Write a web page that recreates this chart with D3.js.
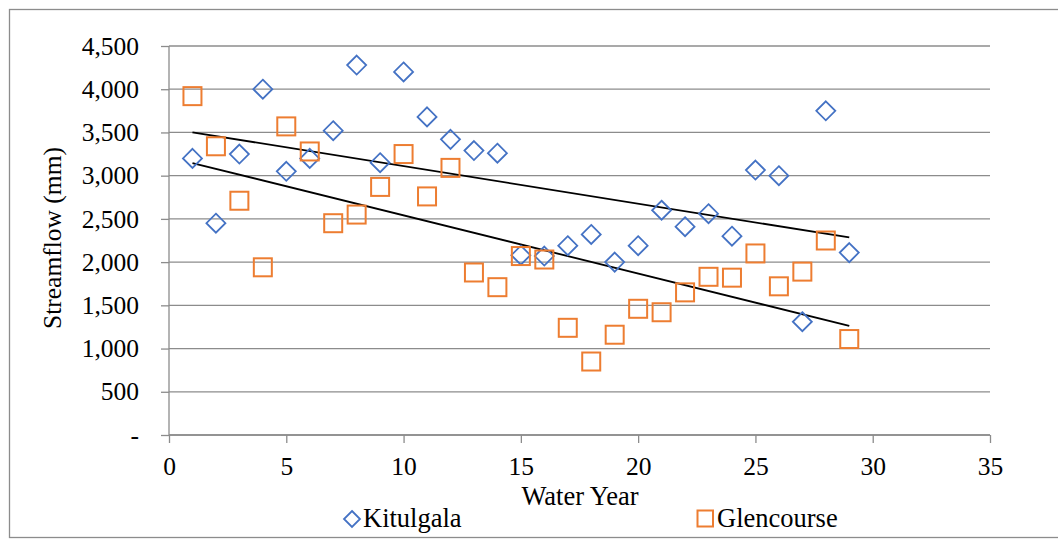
<!DOCTYPE html>
<html>
<head>
<meta charset="utf-8">
<script src="https://cdn.jsdelivr.net/npm/d3@7"></script>
<style>
  html, body { margin: 0; padding: 0; background: #fff; }
  svg { display: block; }
  svg text { font-family: "Liberation Serif", "DejaVu Serif", "Times New Roman", Times, serif !important; fill: #000; }
</style>
</head>
<body>
<svg id="chart" width="1058" height="539"></svg>
<script>
// ---- Data ----
const years = [1,2,3,4,5,6,7,8,9,10,11,12,13,14,15,16,17,18,19,20,21,22,23,24,25,26,27,28,29];
const kitulgala = [3200,2450,3250,4000,3050,3200,3520,4280,3150,4200,3680,3420,3290,3260,2080,2070,2190,2320,2000,2190,2600,2410,2560,2300,3065,3000,1310,3750,2110];
const glencourse = [3920,3340,2710,1940,3570,3280,2450,2550,2870,3250,2760,3090,1880,1710,2070,2030,1240,850,1160,1460,1420,1650,1830,1820,2100,1720,1890,2250,1110];
const xTicks = [0,5,10,15,20,25,30,35];
const yTicks = [0,500,1000,1500,2000,2500,3000,3500,4000,4500];
const seriesNames = ["Kitulgala", "Glencourse"];
const seriesColors = ["#4472C4", "#ED7D31"];

// ---- Layout ----
const FONT = "'Liberation Serif', 'DejaVu Serif', 'Times New Roman', Times, serif";
const svg = d3.select("#chart");
const FS = 25.5;     // tick labels
const FS2 = 26.5;    // titles & legend
const gridColor = "#8c8c8c";
const x = d3.scaleLinear().domain([0, 35]).range([169, 990]);
const y = d3.scaleLinear().domain([0, 4500]).range([435, 46]);

// chart border
svg.append("rect").attr("x", 9.5).attr("y", 9.5).attr("width", 1070).attr("height", 528)
  .attr("fill", "none").attr("stroke", gridColor).attr("stroke-width", 1.3);

// gridlines
svg.append("g").selectAll("line").data(yTicks).join("line")
  .attr("x1", x(0)).attr("x2", x(35))
  .attr("y1", d => y(d)).attr("y2", d => y(d))
  .attr("stroke", gridColor).attr("stroke-width", 1.3);

// y axis
const yAxis = d3.axisLeft(y).tickValues(yTicks).tickSize(8).tickPadding(22)
  .tickFormat(d => d === 0 ? "-" : d3.format(",")(d));
const gy = svg.append("g").attr("transform", `translate(${x(0)},0)`).call(yAxis)
  .attr("font-family", FONT).attr("font-size", FS);
gy.select(".domain").attr("stroke", gridColor).attr("stroke-width", 1.3).attr("d", `M0,${y(4500)}V${y(0)}`);
gy.selectAll(".tick line").attr("stroke", gridColor).attr("stroke-width", 1.3);
gy.selectAll(".tick text").style("font-family", FONT).style("font-size", FS + "px").attr("fill", "#000");

// x axis
const xAxis = d3.axisBottom(x).tickValues(xTicks).tickSize(8).tickPadding(14).tickFormat(d3.format("d"));
const gx = svg.append("g").attr("transform", `translate(0,${y(0)})`).call(xAxis)
  .attr("font-family", FONT).attr("font-size", FS);
gx.select(".domain").attr("stroke", gridColor).attr("stroke-width", 1.3).attr("d", `M${x(0)},0H${x(35)}`);
gx.selectAll(".tick line").attr("stroke", gridColor).attr("stroke-width", 1.3);
gx.selectAll(".tick text").style("font-family", FONT).style("font-size", FS + "px").attr("fill", "#000");

// axis titles
svg.append("text").attr("x", 580).attr("y", 505).attr("text-anchor", "middle")
  .style("font-family", FONT).style("font-size", FS2 + "px").text("Water Year");
svg.append("text").attr("transform", "translate(61,238) rotate(-90)").attr("text-anchor", "middle")
  .style("font-family", FONT).style("font-size", FS + "px").text("Streamflow (mm)");

// trend lines (least squares)
function fit(xs, ys) {
  const mx = d3.mean(xs), my = d3.mean(ys);
  let sxy = 0, sxx = 0;
  xs.forEach((v, i) => { sxy += (v - mx) * (ys[i] - my); sxx += (v - mx) * (v - mx); });
  const b = sxy / sxx;
  return { a: my - b * mx, b };
}
const trendG = svg.append("g");
[kitulgala, glencourse].forEach(vals => {
  const f = fit(years, vals);
  const x0 = d3.min(years), x1 = d3.max(years);
  trendG.append("line")
    .attr("x1", x(x0)).attr("y1", y(f.a + f.b * x0))
    .attr("x2", x(x1)).attr("y2", y(f.a + f.b * x1))
    .attr("stroke", "#000").attr("stroke-width", 1.8);
});

// markers
const diamond = (cx, cy, r) => `M${cx},${cy - r}L${cx + r},${cy}L${cx},${cy + r}L${cx - r},${cy}Z`;
svg.append("g").selectAll("path").data(years).join("path")
  .attr("d", (d, i) => diamond(x(d), y(kitulgala[i]), 9.5))
  .attr("fill", "none").attr("stroke", seriesColors[0]).attr("stroke-width", 1.8);
svg.append("g").selectAll("rect").data(years).join("rect")
  .attr("x", (d, i) => x(d) - 9).attr("y", (d, i) => y(glencourse[i]) - 9)
  .attr("width", 18).attr("height", 18)
  .attr("fill", "none").attr("stroke", seriesColors[1]).attr("stroke-width", 2);

// legend
const lg = svg.append("g");
lg.append("path").attr("d", diamond(352, 519, 8)).attr("fill", "none")
  .attr("stroke", seriesColors[0]).attr("stroke-width", 1.8);
lg.append("text").attr("x", 363).attr("y", 527)
  .style("font-family", FONT).style("font-size", FS2 + "px").text(seriesNames[0]);
lg.append("rect").attr("x", 697.5).attr("y", 510.5).attr("width", 15.5).attr("height", 16)
  .attr("fill", "none").attr("stroke", seriesColors[1]).attr("stroke-width", 2);
lg.append("text").attr("x", 717).attr("y", 527)
  .style("font-family", FONT).style("font-size", FS2 + "px").text(seriesNames[1]);
</script>
</body>
</html>
